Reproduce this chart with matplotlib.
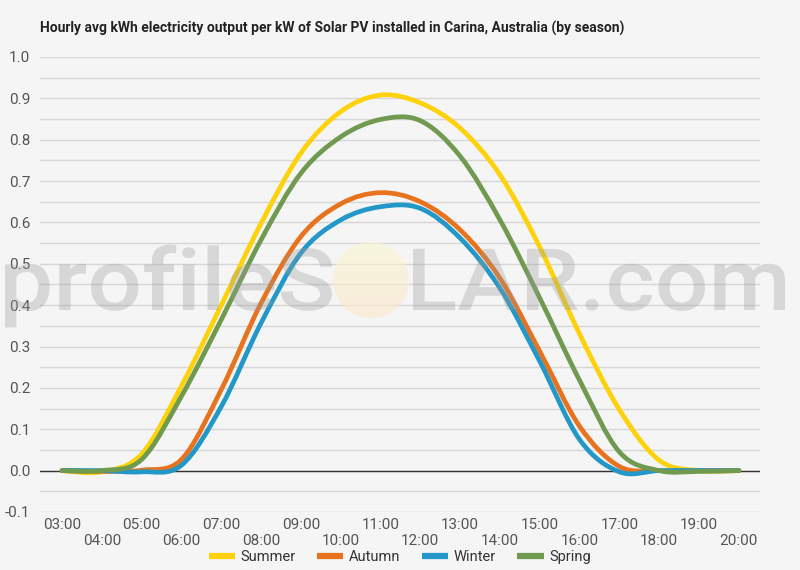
import numpy as np
import matplotlib
matplotlib.use("Agg")
import matplotlib.pyplot as plt
from matplotlib.path import Path
from matplotlib.patches import PathPatch, Ellipse
from matplotlib.lines import Line2D
from matplotlib.textpath import TextPath
from matplotlib.font_manager import FontProperties
from matplotlib.transforms import Affine2D

# hourly averages, 03:00 .. 20:00
hours = list(range(3, 21))
hour_labels = ["%02d:00" % h for h in hours]

summer = [0.0, -0.003, 0.04, 0.205, 0.40, 0.598, 0.768, 0.868, 0.908, 0.889,
          0.828, 0.715, 0.54, 0.33, 0.147, 0.025, 0.0, 0.0]
autumn = [0.0, -0.002, 0.001, 0.027, 0.196, 0.405, 0.566, 0.645, 0.672, 0.65,
          0.582, 0.465, 0.288, 0.107, 0.01, 0.0, 0.0, 0.0]
winter = [0.0, 0.0, -0.003, 0.013, 0.155, 0.357, 0.526, 0.606, 0.638, 0.634,
          0.562, 0.441, 0.264, 0.075, -0.003, 0.0, 0.0, 0.0]
spring = [0.0, 0.0, 0.027, 0.18, 0.365, 0.558, 0.719, 0.807, 0.849, 0.846,
          0.76, 0.606, 0.417, 0.218, 0.045, 0.0, -0.002, 0.0]

seasons = ["Summer", "Autumn", "Winter", "Spring"]
colors = ["#fdd20a", "#e8731e", "#2398c8", "#6f9a50"]

BG = "#f5f5f5"


def spline_path(xs, ys):
    # smooth curve through the points (catmull-rom as cubic beziers)
    xs = np.asarray(xs, float)
    ys = np.asarray(ys, float)
    n = len(xs)
    verts = [(xs[0], ys[0])]
    codes = [Path.MOVETO]
    for i in range(n - 1):
        a = max(i - 1, 0)
        b = min(i + 2, n - 1)
        c1 = (xs[i] + (xs[i + 1] - xs[a]) / 6, ys[i] + (ys[i + 1] - ys[a]) / 6)
        c2 = (xs[i + 1] - (xs[b] - xs[i]) / 6, ys[i + 1] - (ys[b] - ys[i]) / 6)
        verts += [c1, c2, (xs[i + 1], ys[i + 1])]
        codes += [Path.CURVE4] * 3
    return Path(verts, codes)


fig = plt.figure(figsize=(8, 5.7), dpi=100, facecolor=BG)

ax = fig.add_axes([0.05, 0.1018, 0.9, 0.7982])
ax.set_facecolor("none")

for name, vals, c in zip(seasons, [summer, autumn, winter, spring], colors):
    ax.add_patch(PathPatch(spline_path(hours, vals), fill=False, edgecolor=c,
                           lw=3.4, capstyle="round", joinstyle="round", zorder=3))

ax.set_xlim(2.447, 20.53)
ax.set_ylim(-0.1, 1.0)

ax.set_yticks(np.round(np.arange(-0.1, 1.01, 0.1), 1))
ax.set_yticks(np.arange(-0.05, 1.0, 0.1), minor=True)
ax.set_yticklabels(["%.1f" % v for v in np.arange(-0.1, 1.01, 0.1)])
ax.grid(axis="y", which="both", color="#d6d6d6", lw=1)
ax.axhline(0, color="#333333", lw=1, zorder=2)

ax.set_xticks(hours)
ax.set_xticklabels([lab if i % 2 == 0 else "\n" + lab
                    for i, lab in enumerate(hour_labels)])

for s in ax.spines.values():
    s.set_visible(False)
ax.tick_params(axis="both", which="both", length=0, colors="#555555", labelsize=11)
ax.tick_params(axis="y", pad=7)
ax.tick_params(axis="x", pad=4)
for lab in ax.get_xticklabels() + ax.get_yticklabels():
    lab.set_family(["Roboto"])
    lab.set_linespacing(1.25)

# watermark, semi transparent on top of the plot
wm_font = FontProperties(family="Roboto", weight="medium")


def wm_text(s, x0, x1, base, cap):
    tp = TextPath((0, 0), s, size=100, prop=wm_font)
    ext = tp.get_extents()
    cap_ref = TextPath((0, 0), "S", size=100, prop=wm_font).get_extents().y1
    sy = cap / cap_ref
    sx = (x1 - x0) / (ext.x1 - ext.x0)
    tr = Affine2D().translate(-ext.x0, 0).scale(sx, sy).translate(x0, 570 - base)
    tr = tr + Affine2D().scale(1 / 800, 1 / 570) + fig.transFigure
    fig.patches.append(PathPatch(tp, transform=tr, facecolor="#9a9a9a",
                                 alpha=0.33, edgecolor="none", zorder=5))


wm_text("profileS", 5, 332, 310, 62)
wm_text("LAR.com", 413, 785, 310, 62)

# sun in place of the "O": soft vertical gradient clipped to a circle
sun_ax = fig.add_axes([333 / 800, 1 - 318 / 570, 76 / 800, 76 / 570], zorder=4)
sun_ax.axis("off")
sun_ax.patch.set_visible(False)
grad = np.linspace(0, 1, 64)[:, None, None]
top_c = np.array([0.975, 0.965, 0.82])
bot_c = np.array([0.985, 0.91, 0.80])
img = np.repeat(top_c * (1 - grad) + bot_c * grad, 2, axis=1)
sun_clip = Ellipse((0.5, 0.5), 1, 1, transform=sun_ax.transAxes)
sun_ax.imshow(np.clip(img, 0, 1), aspect="auto", extent=[0, 1, 0, 1],
              origin="upper", alpha=0.65, clip_path=sun_clip)
sun_ax.set_xlim(0, 1)
sun_ax.set_ylim(0, 1)

fig.text(40 / 800, 1 - 28 / 570,
         "Hourly avg kWh electricity output per kW of Solar PV installed in Carina, Australia (by season)",
         family="Roboto", weight="bold", fontsize=10.0, color="#222222",
         ha="left", va="center")

handles = [Line2D([], [], color=c, lw=4.5, solid_capstyle="butt") for c in colors]
fig.legend(handles, seasons, loc="center", bbox_to_anchor=(0.5, 1 - 557 / 570),
           ncol=4, frameon=False, handlelength=1.8, handletextpad=0.4,
           columnspacing=1.45, prop=FontProperties(family="Roboto", size=10.5),
           labelcolor="#333333")

fig.savefig("out.png", dpi=100, facecolor=BG)
